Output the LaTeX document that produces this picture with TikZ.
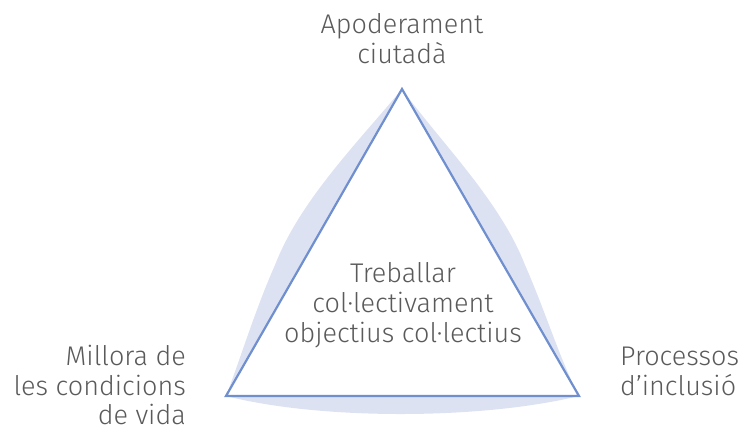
\documentclass[tikz,border=0pt]{standalone}
\usepackage{fontspec}
\setmainfont{Fira Sans Light}
\definecolor{edgeblue}{HTML}{6F8FCF}
\definecolor{lavfill}{HTML}{DDE2F3}
\definecolor{txt}{HTML}{5A5A5A}
\begin{document}
\begin{tikzpicture}[x=1pt,y=-1pt,
  lbl/.style={text=txt,font=\fontsize{27}{30}\selectfont,inner sep=0pt}]
\useasboundingbox (0,0) rectangle (746,432);
\coordinate (T) at (402,89);
\coordinate (L) at (226,396);
\coordinate (R) at (579,396);
\fill[lavfill] (T) .. controls (360,140) and (300,200) .. (275,265)
  .. controls (255,310) and (240,360) .. (L)
  .. controls (320,420) and (480,420) .. (R)
  .. controls (560,360) and (545,310) .. (525,265)
  .. controls (500,200) and (437,138) .. (T) -- cycle;
\draw[edgeblue,fill=white,line width=2.2pt,line join=miter] (T) -- (L) -- (R) -- cycle;
\node[lbl,anchor=base] (t1) at (402,33) {Apoderament};
\node[lbl,anchor=base] (t2) at (402,63) {ciutadà};
\node[lbl,anchor=base] (c1) at (403,282) {Treballar};
\node[lbl,anchor=base] (c2) at (403,312) {col·lectivament};
\node[lbl,anchor=base] (c3) at (403,342) {objectius col·lectius};
\node[lbl,anchor=base east] (l1) at (186,365) {Millora de};
\node[lbl,anchor=base east] (l2) at (186,395) {les condicions};
\node[lbl,anchor=base east] (l3) at (186,424) {de vida};
\node[lbl,anchor=base west] (r1) at (620,365) {Processos};
\node[lbl,anchor=base west] (r2) at (620,395) {d’inclusió};
\end{tikzpicture}
\end{document}
